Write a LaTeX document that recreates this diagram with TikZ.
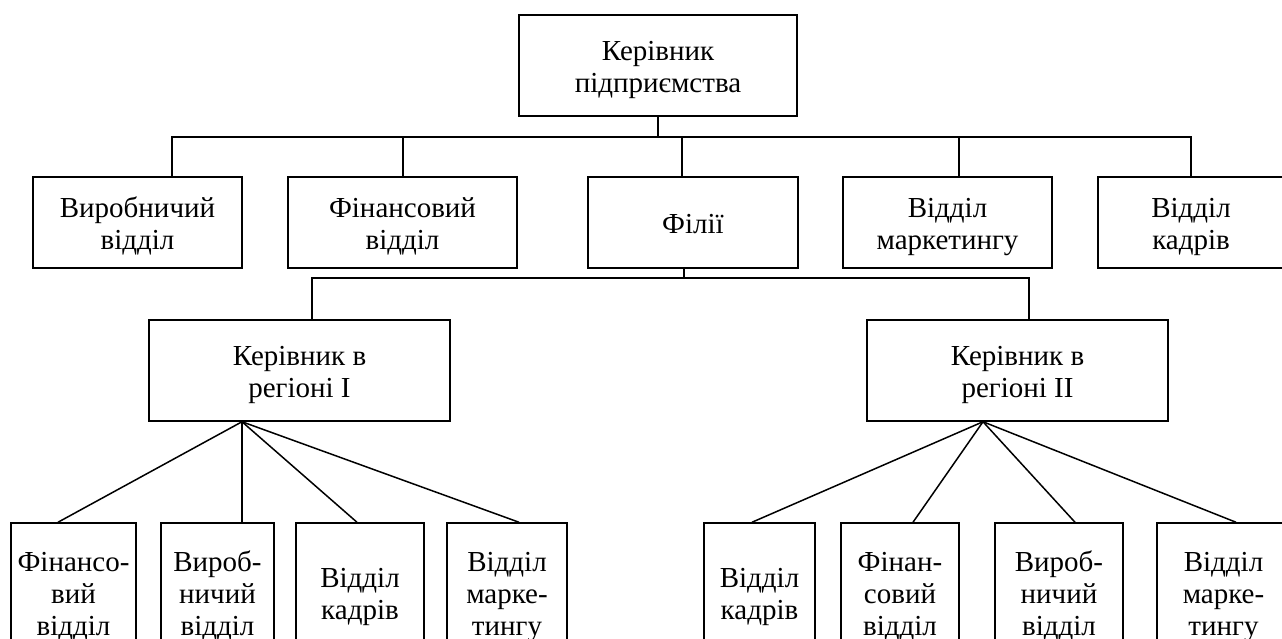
\documentclass[tikz,border=0pt]{standalone}
\usepackage{fontspec}
\setmainfont{Liberation Serif}
\newcommand\boxtext[1]{\raisebox{-4.5pt}[\height][\depth]{\begin{tabular}{@{}c@{}}#1\end{tabular}}}
\begin{document}
\begin{tikzpicture}[x=1pt,y=-1pt,
  box/.style={draw,line width=1.5pt,inner sep=0pt,font=\fontsize{29}{32}\selectfont},
  conn/.style={line width=1.5pt}]
\useasboundingbox (0,0) rectangle (1282,639);
\begin{scope}
\clip (0,0) rectangle (1282,639);
% top
\node[box,minimum width=278pt,minimum height=101pt] (top) at (658,65.5) {\boxtext{Керівник\\підприємства}};
% row 2
\node[box,minimum width=209pt,minimum height=91pt] (vyr) at (137.5,222.5) {\boxtext{Виробничий\\відділ}};
\node[box,minimum width=229pt,minimum height=91pt] (fin) at (402.5,222.5) {\boxtext{Фінансовий\\відділ}};
\node[box,minimum width=210pt,minimum height=91pt] (fil) at (693,222.5) {\boxtext{Філії}};
\node[box,minimum width=209pt,minimum height=91pt] (mkt) at (947.5,222.5) {\boxtext{Відділ\\маркетингу}};
\node[box,minimum width=186pt,minimum height=91pt] (kdr) at (1191,222.5) {\boxtext{Відділ\\кадрів}};
% regions
\node[box,minimum width=301pt,minimum height=101pt] (r1) at (299.5,370.5) {\boxtext{Керівник в\\регіоні I}};
\node[box,minimum width=301pt,minimum height=101pt] (r2) at (1017.5,370.5) {\boxtext{Керівник в\\регіоні II}};
% bottom
\node[box,minimum width=125pt,minimum height=140pt] (b1) at (73.5,593) {\boxtext{Фінансо-\\вий\\відділ}};
\node[box,minimum width=113pt,minimum height=140pt] (b2) at (217.5,593) {\boxtext{Вироб-\\ничий\\відділ}};
\node[box,minimum width=128pt,minimum height=140pt] (b3) at (360,593) {\boxtext{Відділ\\кадрів}};
\node[box,minimum width=120pt,minimum height=140pt] (b4) at (507,593) {\boxtext{Відділ\\марке-\\тингу}};
\node[box,minimum width=111pt,minimum height=140pt] (b5) at (759.5,593) {\boxtext{Відділ\\кадрів}};
\node[box,minimum width=118pt,minimum height=140pt] (b6) at (900,593) {\boxtext{Фінан-\\совий\\відділ}};
\node[box,minimum width=128pt,minimum height=140pt] (b7) at (1059,593) {\boxtext{Вироб-\\ничий\\відділ}};
\node[box,minimum width=133pt,minimum height=140pt] (b8) at (1223.5,593) {\boxtext{Відділ\\марке-\\тингу}};
% connectors, top level
\coordinate (bus1) at (658,137);
\draw[conn] (top.south) -- (bus1);
\draw[conn] ([xshift=34.5pt]vyr.north) |- (bus1) -| (kdr.north);
\draw[conn] ([xshift=0.5pt]fin.north) -- ([xshift=0.5pt]fin.north |- bus1);
\draw[conn] ([xshift=-11pt]fil.north) -- ([xshift=-11pt]fil.north |- bus1);
\draw[conn] ([xshift=11.5pt]mkt.north) -- ([xshift=11.5pt]mkt.north |- bus1);
% branch bus
\coordinate (bus2) at (684,278);
\draw[conn] ([xshift=-9pt]fil.south) -- ([xshift=-9pt]fil.south |- bus2);
\draw[conn] ([xshift=12.5pt]r1.north) |- (bus2) -| ([xshift=11.5pt]r2.north);
% fans
\coordinate (f1) at ([xshift=-57.5pt]r1.south);
\coordinate (f2) at ([xshift=-34.5pt]r2.south);
\draw[conn] (f1) -- ([xshift=-15.5pt]b1.north);
\draw[conn] (f1) -- ([xshift=24.5pt]b2.north);
\draw[conn] (f1) -- ([xshift=-3pt]b3.north);
\draw[conn] (f1) -- ([xshift=12pt]b4.north);
\draw[conn] (f2) -- ([xshift=-7.5pt]b5.north);
\draw[conn] (f2) -- ([xshift=13pt]b6.north);
\draw[conn] (f2) -- ([xshift=16pt]b7.north);
\draw[conn] (f2) -- ([xshift=12.5pt]b8.north);
\end{scope}
\end{tikzpicture}
\end{document}
